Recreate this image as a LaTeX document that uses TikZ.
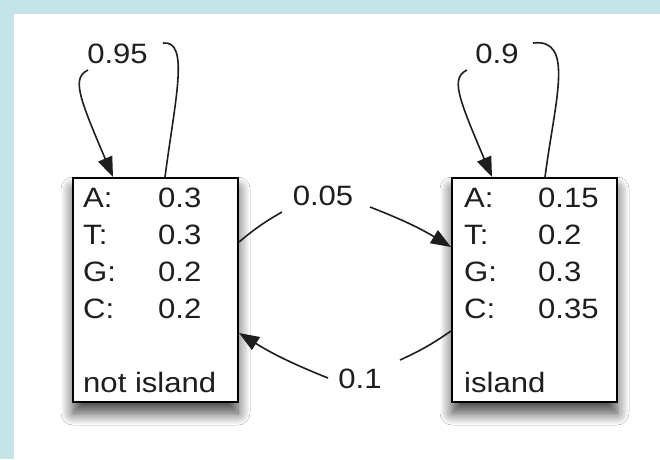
\documentclass[tikz,border=0pt]{standalone}
\usepackage{fontspec}
\setmainfont{Liberation Sans}[FakeStretch=1.11]
\usetikzlibrary{arrows.meta,shadows.blur}
\definecolor{frame}{RGB}{197,228,232}
\definecolor{ink}{RGB}{30,30,30}
\begin{document}
\begin{tikzpicture}[x=1pt,y=-1pt,
  state/.style={draw=black, line width=2pt, fill=white, anchor=north west,
    inner sep=0pt, minimum width=165pt, minimum height=224pt,
    blur shadow={shadow xshift=0pt, shadow yshift=-11pt,
      shadow blur radius=12pt, shadow blur steps=12, shadow opacity=75}},
  txt/.style={anchor=base west, inner sep=0pt, text=ink,
    font=\fontsize{28}{32}\selectfont},
  lbl/.style={anchor=base, inner sep=0pt, text=ink,
    font=\fontsize{28}{32}\selectfont},
  conn/.style={draw=ink, line width=1.6pt},
  arr/.style={conn, -{Triangle[length=20pt,width=15pt]}}
]
% page and light frame bands
\useasboundingbox (0,0) rectangle (660,459);
\fill[white] (0,0) rectangle (660,459);
\fill[frame] (0,0) rectangle (660,13.5);
\fill[frame] (0,0) rectangle (13.5,459);

% the two states
\node[state] (L) at (72,177) {};
\node[state] (R) at (451,177) {};

% emission probabilities, "not island"
\node[txt] (La)  at (83,207)  {A:};  \node[txt] (Lav) at (158,207) {0.3};
\node[txt] (Lt)  at (83,244)  {T:};  \node[txt] (Ltv) at (158,244) {0.3};
\node[txt] (Lg)  at (83,281)  {G:};  \node[txt] (Lgv) at (158,281) {0.2};
\node[txt] (Lc)  at (83,318)  {C:};  \node[txt] (Lcv) at (158,318) {0.2};
\node[txt] (Ln)  at (83,392)  {not island};

% emission probabilities, "island"
\node[txt] (Ra)  at (464,207) {A:};  \node[txt] (Rav) at (538,207) {0.15};
\node[txt] (Rt)  at (464,244) {T:};  \node[txt] (Rtv) at (538,244) {0.2};
\node[txt] (Rg)  at (464,281) {G:};  \node[txt] (Rgv) at (538,281) {0.3};
\node[txt] (Rc)  at (464,318) {C:};  \node[txt] (Rcv) at (538,318) {0.35};
\node[txt] (Rn)  at (464,392) {island};

% transition labels
\node[lbl] (LL) at (117.5,63) {0.95};
\node[lbl] (RR) at (497,63)   {0.9};
\node[lbl] (LR) at (323,205)  {0.05};
\node[lbl] (RL) at (360,388)  {0.1};

% free ends of the broken connectors, next to their labels
\coordinate (LLa) at (88,70);   \coordinate (LLb) at (163,43);
\coordinate (RRa) at (467,70);  \coordinate (RRb) at (533,43);
\coordinate (LRa) at (282,212); \coordinate (LRb) at (370,207);
\coordinate (RLa) at (400,360); \coordinate (RLb) at (328,378);

% self loop on "not island"
\draw[conn] ([xshift=93pt]L.north west) .. controls (175,100) and (190,40) .. (LLb);
\draw[arr]  (LLa) .. controls (72,78) and (78,95) .. ([xshift=41pt]L.north west);

% self loop on "island"
\draw[conn] ([xshift=94pt]R.north west) .. controls (555,100) and (575,38) .. (RRb);
\draw[arr]  (RRa) .. controls (451,78) and (457,95) .. ([xshift=41pt]R.north west);

% not island -> island
\draw[conn] ([yshift=-65pt]L.north east) to[bend left=5] (LRa);
\draw[arr]  (LRb) to[bend left=5] ([yshift=-70pt]R.north west);

% island -> not island
\draw[conn] ([yshift=-154pt]R.north west) to[bend left=5] (RLa);
\draw[arr]  (RLb) to[bend left=5] ([yshift=-156pt]L.north east);
\end{tikzpicture}
\end{document}
